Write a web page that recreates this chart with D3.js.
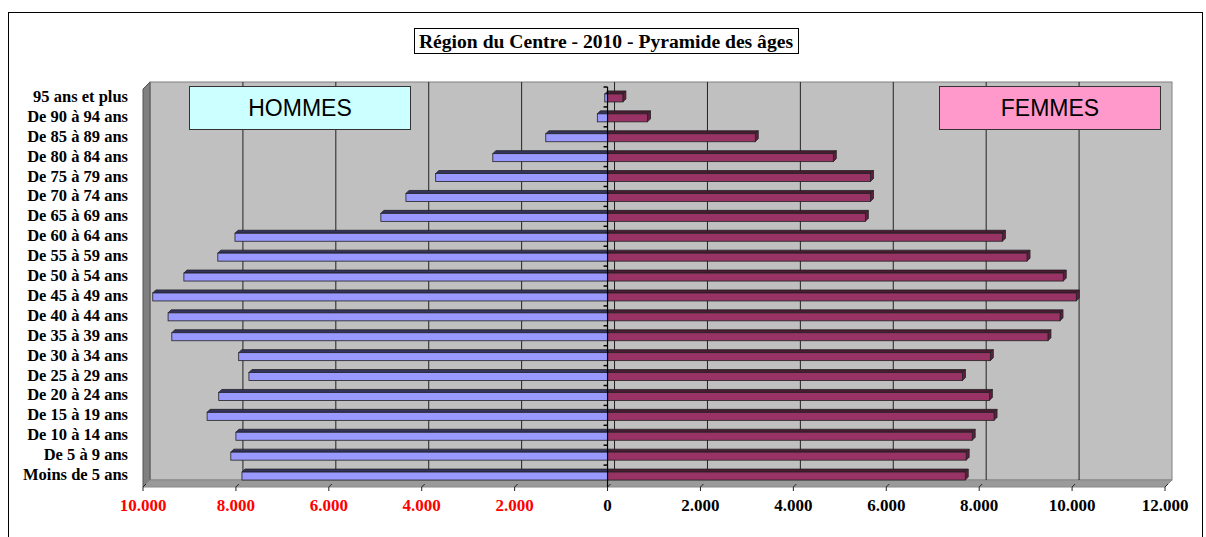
<!DOCTYPE html>
<html>
<head>
<meta charset="utf-8">
<script src="https://cdn.jsdelivr.net/npm/d3@7"></script>
<style>
  html, body { margin: 0; padding: 0; background: #fff; }
  svg { display: block; }
</style>
</head>
<body>
<svg id="chart" width="1206" height="537"></svg>
<script>
const title = "Région du Centre - 2010 - Pyramide des âges";
const categories = ["95 ans et plus","De 90 à 94 ans","De 85 à 89 ans","De 80 à 84 ans","De 75 à 79 ans",
  "De 70 à 74 ans","De 65 à 69 ans","De 60 à 64 ans","De 55 à 59 ans","De 50 à 54 ans","De 45 à 49 ans",
  "De 40 à 44 ans","De 35 à 39 ans","De 30 à 34 ans","De 25 à 29 ans","De 20 à 24 ans","De 15 à 19 ans",
  "De 10 à 14 ans","De 5 à 9 ans","Moins de 5 ans"];
const hommes = [60, 220, 1330, 2470, 3700, 4340, 4880, 8020, 8390, 9120, 9790, 9460, 9380, 7940, 7720, 8370, 8620, 8000, 8110, 7870];
const femmes = [330, 860, 3180, 4860, 5660, 5660, 5550, 8500, 9030, 9810, 10090, 9740, 9480, 8240, 7640, 8220, 8320, 7850, 7720, 7700];
const xTicks = [-10000, -8000, -6000, -4000, -2000, 0, 2000, 4000, 6000, 8000, 10000, 12000];
const legendLabels = ["HOMMES", "FEMMES"];

const svg = d3.select("#chart");
const serif = "'Liberation Serif', 'Times New Roman', serif";
const sans = "'Liberation Sans', Arial, sans-serif";

// outer frame
svg.append("rect").attr("x", 8.5).attr("y", 12.5).attr("width", 1194).attr("height", 600)
  .attr("fill", "none").attr("stroke", "#000").attr("stroke-width", 1);

const x = d3.scaleLinear().domain([-10000, 12000]).range([143, 1165]);
const y = d3.scaleBand().domain(categories).range([87, 485]).padding(0);
const D = 7; // depth offset
const floorY = 487, topY = 89;

// back wall
svg.append("rect").attr("x", x(-10000) + D).attr("y", topY - D).attr("width", x(12000) - x(-10000))
  .attr("height", floorY - topY).attr("fill", "#c0c0c0").attr("stroke", "#808080");
// left side wall
svg.append("polygon").attr("points", [[x(-10000), topY], [x(-10000) + D, topY - D], [x(-10000) + D, floorY - D], [x(-10000), floorY]].join(" "))
  .attr("fill", "#808080").attr("stroke", "#555");
// floor
svg.append("polygon").attr("points", [[x(-10000), floorY], [x(-10000) + D, floorY - D], [x(12000) + D, floorY - D], [x(12000), floorY]].join(" "))
  .attr("fill", "#9a9a9a").attr("stroke", "#888");

// back gridlines
svg.append("g").selectAll("line").data(xTicks.slice(1, -1)).join("line")
  .attr("x1", d => x(d) + D).attr("x2", d => x(d) + D)
  .attr("y1", topY - D).attr("y2", floorY - D)
  .attr("stroke", "#222").attr("stroke-width", 1);
// floor grid diagonals + ticks
const ft = svg.append("g");
ft.selectAll("path").data(xTicks).join("path")
  .attr("d", d => `M${x(d)},${floorY + 4}L${x(d)},${floorY}L${x(d) + 3},${floorY - 3}`)
  .attr("fill", "none").attr("stroke", "#222").attr("stroke-width", 1);

// x labels
svg.append("g").selectAll("text").data(xTicks).join("text")
  .attr("x", d => x(d)).attr("y", 511)
  .attr("text-anchor", "middle")
  .attr("font-family", serif).attr("font-weight", "bold").attr("font-size", "17px")
  .attr("fill", d => d < 0 ? "#ff0000" : "#000")
  .text(d => d3.format(",")(Math.abs(d)).replace(/,/g, "."));

// bars
const c = d => y(d) + y.bandwidth() / 2 + 1;
const bars = svg.append("g");
categories.forEach((cat, i) => {
  const cy = c(cat);
  const x0 = x(0);
  // men
  const xm = x(-hommes[i]);
  bars.append("polygon").attr("points", [[xm, cy - 4], [xm + 3, cy - 7], [x0 + 3, cy - 7], [x0, cy - 4]].join(" "))
    .attr("fill", "#33335e").attr("stroke", "#222").attr("stroke-width", 0.8);
  bars.append("rect").attr("x", xm).attr("y", cy - 4).attr("width", x0 - xm).attr("height", 8)
    .attr("fill", "#9999ff").attr("stroke", "#222").attr("stroke-width", 0.8);
  // women
  const xf = x(femmes[i]);
  bars.append("polygon").attr("points", [[x0, cy - 4], [x0 + 3, cy - 7], [xf + 3, cy - 7], [xf, cy - 4]].join(" "))
    .attr("fill", "#4d1a33").attr("stroke", "#222").attr("stroke-width", 0.8);
  bars.append("polygon").attr("points", [[xf, cy - 4], [xf + 3, cy - 7], [xf + 3, cy + 1], [xf, cy + 4]].join(" "))
    .attr("fill", "#5e1f3f").attr("stroke", "#222").attr("stroke-width", 0.8);
  bars.append("rect").attr("x", x0).attr("y", cy - 4).attr("width", xf - x0).attr("height", 8)
    .attr("fill", "#993366").attr("stroke", "#222").attr("stroke-width", 0.8);
});

// zero axis with category ticks
svg.append("line").attr("x1", x(0)).attr("x2", x(0)).attr("y1", topY - 2).attr("y2", floorY)
  .attr("stroke", "#000").attr("stroke-width", 1.2);
svg.append("g").selectAll("line").data(categories.slice(0)).join("line")
  .attr("x1", x(0) - 4).attr("x2", x(0))
  .attr("y1", d => y(d)).attr("y2", d => y(d))
  .attr("stroke", "#000").attr("stroke-width", 1.5);

// y labels
svg.append("g").selectAll("text").data(categories).join("text")
  .attr("x", 128).attr("y", d => y(d) + y.bandwidth() / 2 + 5)
  .attr("text-anchor", "end")
  .attr("font-family", serif).attr("font-weight", "bold").attr("font-size", "16.5px")
  .attr("fill", "#000").text(d => d);

// legend boxes
const boxes = [{ label: legendLabels[0], x: 189, fill: "#ccffff" }, { label: legendLabels[1], x: 939, fill: "#ff99cc" }];
boxes.forEach(b => {
  svg.append("rect").attr("x", b.x + 0.5).attr("y", 86.5).attr("width", 221).attr("height", 43)
    .attr("fill", b.fill).attr("stroke", "#333").attr("stroke-width", 1);
  svg.append("text").attr("x", b.x + 111).attr("y", 116).attr("text-anchor", "middle")
    .attr("font-family", sans).attr("font-size", "23px").attr("fill", "#000").text(b.label);
});

// title
svg.append("rect").attr("x", 414.5).attr("y", 28.5).attr("width", 384).attr("height", 25)
  .attr("fill", "#fff").attr("stroke", "#000").attr("stroke-width", 1);
svg.append("text").attr("x", 606).attr("y", 48).attr("text-anchor", "middle")
  .attr("font-family", serif).attr("font-weight", "bold").attr("font-size", "19.6px")
  .attr("fill", "#000").text(title);
</script>
</body>
</html>
